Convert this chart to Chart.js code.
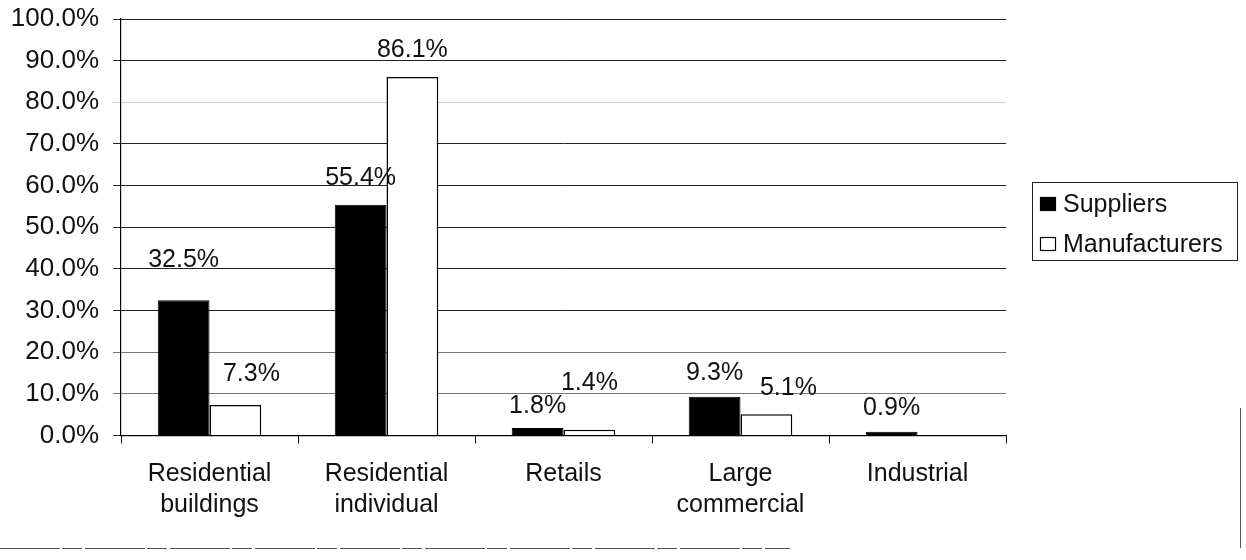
<!DOCTYPE html>
<html>
<head>
<meta charset="utf-8">
<script src="https://cdn.jsdelivr.net/npm/chart.js@4.4.1/dist/chart.umd.min.js"></script>
<style>
  html, body { margin: 0; padding: 0; background: #fff; }
  #wrap { width: 1246px; height: 560px; position: relative; }
</style>
</head>
<body>
<div id="wrap"><canvas id="c" width="1246" height="560"></canvas></div>
<script>
// Market share by customer segment
const categories = [
  ['Residential', 'buildings'],
  ['Residential', 'individual'],
  'Retails',
  ['Large', 'commercial'],
  'Industrial'
];
const seriesNames = ['Suppliers', 'Manufacturers'];
const suppliers = [32.5, 55.4, 1.8, 9.3, 0.9];
const manufacturers = [7.3, 86.1, 1.4, 5.1, null];
const yTicks = [0, 10, 20, 30, 40, 50, 60, 70, 80, 90, 100];

const FONT = '"Liberation Sans", Arial, Helvetica, sans-serif';
const INK = '#111';

// Value labels above each bar, with a few hand-placed nudges
const valueLabels = {
  id: 'valueLabels',
  afterDatasetsDraw(chart, args, opts) {
    const ctx = chart.ctx;
    ctx.save();
    ctx.font = opts.size + 'px ' + FONT;
    ctx.fillStyle = INK;
    ctx.textAlign = 'center';
    ctx.textBaseline = 'alphabetic';
    chart.data.datasets.forEach((ds, di) => {
      const meta = chart.getDatasetMeta(di);
      meta.data.forEach((bar, i) => {
        const v = ds.data[i];
        if (v === null || v === undefined) return;
        const n = (opts.nudge[di] && opts.nudge[di][i]) || [0, 0];
        ctx.fillText(v.toFixed(1) + '%', bar.x + n[0], bar.y - opts.gap + n[1]);
      });
    });
    ctx.restore();
  }
};

// Boxed legend to the right of the plot
const boxLegend = {
  id: 'boxLegend',
  afterDraw(chart, args, o) {
    const ctx = chart.ctx;
    ctx.save();
    ctx.strokeStyle = '#222';
    ctx.lineWidth = 1;
    ctx.strokeRect(o.x + 0.5, o.y + 0.5, o.w, o.h);
    ctx.font = o.size + 'px ' + FONT;
    ctx.textBaseline = 'middle';
    ctx.textAlign = 'left';
    chart.data.datasets.forEach((ds, i) => {
      const cy = o.y + o.first + i * o.row;
      ctx.fillStyle = ds.backgroundColor;
      ctx.fillRect(o.x + 8, cy - 7, 16, 14);
      ctx.strokeStyle = '#000';
      ctx.lineWidth = 1.2;
      ctx.strokeRect(o.x + 8.5, cy - 6.5, 15, 13);
      ctx.fillStyle = INK;
      ctx.fillText(ds.label, o.x + 31, cy + 1);
    });
    ctx.restore();
  }
};

// Outer frame edges of the chart object
const frameEdges = {
  id: 'frameEdges',
  afterDraw(chart) {
    const ctx = chart.ctx;
    ctx.save();
    ctx.strokeStyle = '#555';
    ctx.lineWidth = 1;
    ctx.setLineDash([60, 2, 20, 3]);
    ctx.beginPath();
    ctx.moveTo(0, 548.5);
    ctx.lineTo(790, 548.5);
    ctx.stroke();
    ctx.setLineDash([]);
    ctx.beginPath();
    ctx.moveTo(1240.5, 408);
    ctx.lineTo(1240.5, 548);
    ctx.stroke();
    ctx.restore();
  }
};

function gridColor(ctx) {
  const v = ctx.tick && ctx.tick.value;
  if (v === 80) return '#cfcfcf';
  if (v === 10 || v === 20) return '#777';
  return '#222';
}

new Chart(document.getElementById('c'), {
  type: 'bar',
  data: {
    labels: categories,
    datasets: [
      {
        label: seriesNames[0],
        data: suppliers,
        backgroundColor: '#000',
        borderColor: '#000',
        borderWidth: 1
      },
      {
        label: seriesNames[1],
        data: manufacturers,
        backgroundColor: '#fff',
        borderColor: '#000',
        borderWidth: 1.5
      }
    ]
  },
  options: {
    responsive: false,
    animation: false,
    devicePixelRatio: 1,
    layout: { padding: { left: 4, right: 240, top: 19, bottom: 39 } },
    datasets: {
      bar: { categoryPercentage: 0.585, barPercentage: 1.0, grouped: true }
    },
    scales: {
      x: {
        offset: true,
        afterFit(scale) { scale.height = 85.5; scale.paddingLeft = 0; scale.paddingRight = 0; },
        grid: {
          offset: true,
          drawOnChartArea: false,
          drawTicks: true,
          tickLength: 8,
          color: '#111',
          lineWidth: 1
        },
        border: { display: true, color: '#000', width: 1.2 },
        ticks: {
          color: INK,
          padding: 15,
          maxRotation: 0,
          autoSkip: false,
          font: { family: FONT, size: 25, lineHeight: 1.24 }
        }
      },
      y: {
        min: 0,
        max: 100,
        afterFit(scale) { scale.width = 117; scale.paddingTop = 0; scale.paddingBottom = 0; },
        afterBuildTicks(axis) { axis.ticks = yTicks.map(v => ({ value: v })); },
        grid: {
          color: gridColor,
          lineWidth: 1,
          drawTicks: true,
          tickLength: 8
        },
        border: { display: true, color: '#000', width: 1.2 },
        ticks: {
          color: INK,
          padding: 14,
          font: { family: FONT, size: 26 },
          callback: v => Number(v).toFixed(1) + '%'
        }
      }
    },
    plugins: {
      legend: { display: false },
      tooltip: { enabled: false },
      valueLabels: {
        size: 25,
        gap: 18,
        nudge: [
          [[0, -15], [0, -2], [0, 3], [0, 1], [0, 1]],
          [[16, -6], [0, -2], [0, -22], [22, -1], [0, 0]]
        ]
      },
      boxLegend: { x: 1032, y: 182, w: 205, h: 78, first: 22, row: 40, size: 25 }
    }
  },
  plugins: [valueLabels, boxLegend, frameEdges]
});
</script>
</body>
</html>
